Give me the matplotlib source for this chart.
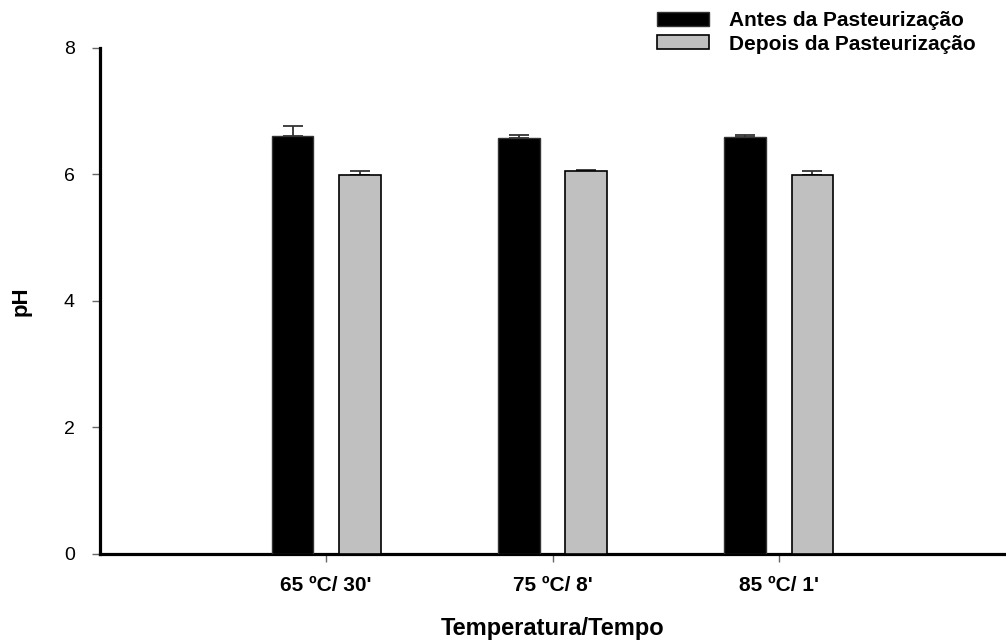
import matplotlib
matplotlib.use("Agg")
import matplotlib.pyplot as plt
import numpy as np

categories = ["65 ºC/ 30'", "75 ºC/ 8'", "85 ºC/ 1'"]
antes = [6.60, 6.58, 6.59]
antes_err = [0.16, 0.04, 0.04]
depois = [5.99, 6.05, 5.99]
depois_err = [0.07, 0.02, 0.06]
series_labels = ["Antes da Pasteurização", "Depois da Pasteurização"]
yticks = [0, 2, 4, 6, 8]

plt.rcParams['font.family'] = ['Liberation Sans', 'DejaVu Sans']

fig = plt.figure(figsize=(10.06, 6.40), dpi=100)
ax = fig.add_axes([100/1006, (640-553.7)/640, 905/1006, 505.7/640])

x = np.arange(len(categories))
w = 0.185
off = 0.149

b1 = ax.bar(x - off, antes, w, color='black', edgecolor='#333333', linewidth=1.0,
            label=series_labels[0], zorder=3)
b2 = ax.bar(x + off, depois, w, color='#C0C0C0', edgecolor='black', linewidth=1.2,
            label=series_labels[1], zorder=3)
ax.errorbar(x - off, antes, yerr=[np.zeros(len(antes)), antes_err], fmt='none',
            ecolor='#333333', elinewidth=1.3, capsize=7, capthick=1.3, zorder=2)
ax.errorbar(x + off, depois, yerr=[np.zeros(len(depois)), depois_err], fmt='none',
            ecolor='#333333', elinewidth=1.3, capsize=7, capthick=1.3, zorder=2)

ax.set_xlim(-1, 3)
ax.set_ylim(0, 8)
ax.set_yticks(yticks)
ax.set_yticklabels([str(t) for t in yticks], fontsize=14)
ax.set_xticks(x)
ax.set_xticklabels(categories, fontsize=15, fontweight='bold')

for s in ['top', 'right']:
    ax.spines[s].set_visible(False)
for s in ['left', 'bottom']:
    ax.spines[s].set_linewidth(2.3)
    ax.spines[s].set_color('black')

ax.tick_params(axis='y', direction='out', length=6, width=1, color='#666666', pad=12)
ax.tick_params(axis='x', direction='out', length=6, width=1, color='#666666', pad=10)

ax.set_xlabel("Temperatura/Tempo", fontsize=17, fontweight='bold')
ax.xaxis.set_label_coords(0.5, -0.126)
ax.set_ylabel("pH", fontsize=16, fontweight='bold')
ax.yaxis.set_label_coords(-0.076, 0.5)

leg = ax.legend(handles=[b1, b2], labels=series_labels, loc='upper center',
                bbox_to_anchor=(816/1006, 1 - 11.5/640), bbox_transform=fig.transFigure,
                frameon=False, borderpad=0, borderaxespad=0,
                handlelength=2.5, handleheight=0.64, handletextpad=0.96,
                labelspacing=0.2, prop={'size': 15, 'weight': 'bold'})

fig.savefig("out.png", dpi=100)
